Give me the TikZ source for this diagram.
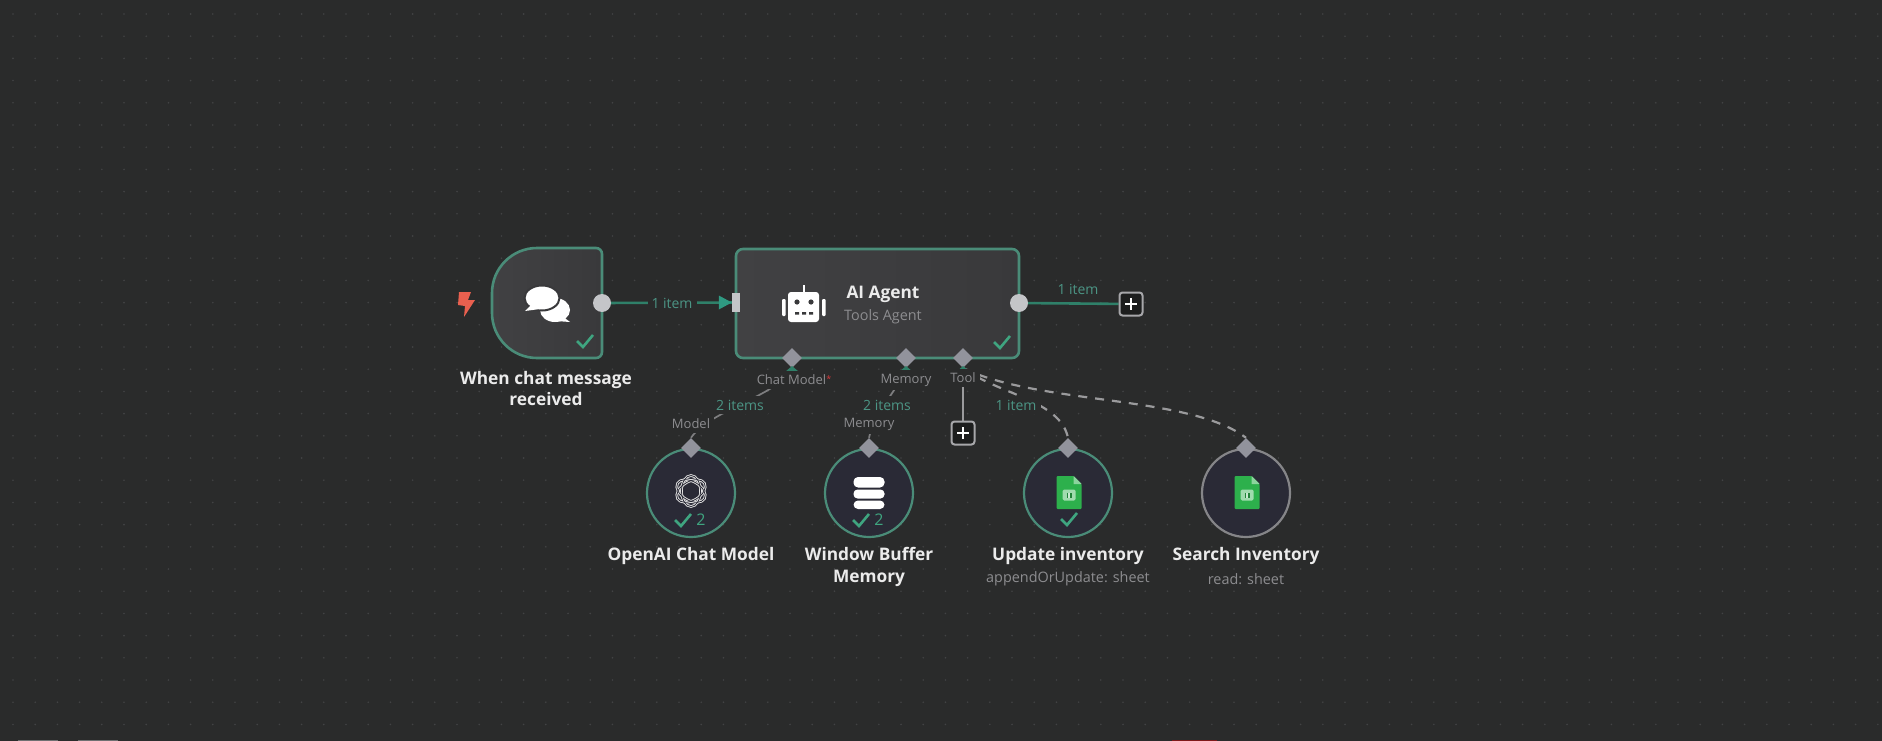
\documentclass[tikz,border=0pt]{standalone}
\usepackage{fontspec}
\setmainfont{Open Sans}
\usetikzlibrary{shapes.geometric,arrows.meta}
\pgfdeclarelayer{canvas}
\pgfdeclarelayer{edges}
\pgfsetlayers{canvas,edges,main}
\definecolor{bgc}{HTML}{2A2B2B}
\definecolor{dotc}{HTML}{424344}
\definecolor{nodec}{HTML}{39393B}
\definecolor{nodetop}{HTML}{414143}
\definecolor{circc}{HTML}{2A2A36}
\definecolor{edgeg}{HTML}{4A8C78}
\definecolor{lineg}{HTML}{2F8069}
\definecolor{arrowg}{HTML}{2F9A82}
\definecolor{checkg}{HTML}{3FA580}
\definecolor{portc}{HTML}{C4C5C8}
\definecolor{diac}{HTML}{92939C}
\definecolor{lblc}{HTML}{8D8D90}
\definecolor{txtc}{HTML}{EBEBEB}
\definecolor{itemc}{HTML}{4C9585}
\definecolor{sheetg}{HTML}{2DB04C}
\definecolor{dashc}{HTML}{9A9A9C}
\definecolor{greyring}{HTML}{858588}
\definecolor{boltc}{HTML}{E9604F}
\tikzset{
  x=1pt,y=-1pt,
  nodebox/.style={draw=edgeg,line width=2.6pt,left color=nodetop,right color=nodec,rounded corners=7pt,inner sep=0pt,minimum width=283pt,minimum height=109pt},
  subnode/.style={circle,draw=edgeg,line width=2.2pt,fill=circc,minimum size=88pt,inner sep=0pt},
  subgrey/.style={subnode,draw=greyring},
  port/.style={circle,fill=portc,minimum size=18pt,inner sep=0pt},
  inport/.style={rectangle,fill=portc,minimum width=8pt,minimum height=19pt,inner sep=0pt},
  dia/.style={diamond,fill=diac,minimum size=20pt,inner sep=0pt},
  plusbox/.style={draw=portc!85!black,line width=2pt,fill=bgc!70!black,rounded corners=3pt,minimum size=23pt,inner sep=0pt},
  title/.style={font=\fontsize{17.3}{21.5}\selectfont\bfseries,text=txtc,align=center,inner sep=0pt},
  agenttitle/.style={font=\fontsize{17.3}{21}\selectfont\bfseries,text=txtc,inner sep=0pt},
  sublabel/.style={font=\fontsize{14.4}{18}\selectfont,text=lblc,inner sep=0pt},
  portlabel/.style={font=\fontsize{13}{16}\selectfont,text=lblc,fill=bgc,inner sep=4pt},
  itemlabel/.style={font=\fontsize{14}{16}\selectfont,text=itemc,fill=bgc,inner sep=4pt},
  countlabel/.style={font=\fontsize{16}{18}\selectfont,text=checkg,inner sep=0pt},
  flow/.style={draw=lineg,line width=2.6pt},
  supply/.style={draw=dashc!75!bgc,line width=1.7pt},
  toolline/.style={draw=dashc,line width=2pt},
  tooldash/.style={draw=dashc,line width=2.2pt,dash pattern=on 9pt off 8pt},
  okcheck/.pic={\draw[checkg,line width=2.6pt] (-8,0)--(-2,6)--(8,-6);},
  sheeticon/.pic={
    \fill[sheetg,rounded corners=1pt] (-12.5,-16.5)--(4.5,-16.5)--(12.5,-8.5)--(12.5,16.5)--(-12.5,16.5)--cycle;
    \fill[sheetg!55!white] (4.5,-16.5)--(12.5,-8.5)--(4.5,-8.5)--cycle;
    \fill[sheetg!45!white,rounded corners=1.5pt] (-6.5,-3)rectangle(6.5,8);
    \fill[sheetg!75!black] (-2.5,0)rectangle(2.5,5);
    \fill[sheetg!25!white] (-0.7,0)rectangle(0.7,5);
  },
  plussign/.pic={\draw[white,line width=2.4pt] (-6,0)--(6,0) (0,-6)--(0,6);}
}
\begin{document}
\begin{tikzpicture}
\useasboundingbox (0,0) rectangle (1882,741);
\begin{pgfonlayer}{canvas}
\fill[bgc] (0,0) rectangle (1882,741);
\fill[dotc] foreach \i in {0,...,84} { foreach \j in {0,...,32} { ({13+22.2*\i},{14+22.2*\j}) circle (0.9) } };
\fill[portc!45!bgc] (18,739.8) rectangle (58,741);
\fill[portc!45!bgc] (78,739.8) rectangle (118,741);
\fill[red!40!bgc] (1172,739.8) rectangle (1217,741);
\end{pgfonlayer}

% chat trigger shape
\node[minimum width=110pt,minimum height=110pt,inner sep=0pt] (chat) at (547,303) {};
\draw[edgeg,line width=2.6pt,left color=nodetop,right color=nodec]
  (602,254) arc[start angle=0,end angle=-90,radius=6] -- (537,248)
  arc[start angle=-90,end angle=-180,radius=45] -- (492,313)
  arc[start angle=180,end angle=90,radius=45] -- (596,358)
  arc[start angle=90,end angle=0,radius=6] -- cycle;

% nodes
\node[nodebox] (agent) at (877.5,303.5) {};
\node[subnode] (model) at (691,493) {};
\node[subnode] (memory) at (869,493) {};
\node[subnode] (update) at (1068,493) {};
\node[subgrey] (search) at (1246,493) {};

% ports
\node[port] (pchat) at (602,303) {};
\node[inport] (pagent) at (736,302.5) {};
\node[port] (pout) at (1019,303) {};
\node[plusbox] (plusa) at (1131,304) {};
\node[plusbox] (plusb) at (963,433) {};
\node[dia] (dchat) at (792,358) {};
\node[dia] (dmem) at (906,358) {};
\node[dia] (dtool) at (963,358) {};
\node[dia] (dmodel) at (691,448) {};
\node[dia] (dmemory) at (869,448) {};
\node[dia] (dupdate) at (1068,448) {};
\node[dia] (dsearch) at (1246,448) {};
\pic at (plusa) {plussign};
\pic at (plusb) {plussign};

% connectors
\begin{pgfonlayer}{edges}
\draw[flow] (pchat) -- (pagent.west);
\draw[flow] (pout) -- (plusa);
\draw[supply] (dchat.south) .. controls (780,395) and (710,410) .. (dmodel.north);
\draw[supply] (dmem.south) .. controls (895,395) and (875,410) .. (dmemory.north);
\draw[toolline] (dtool) -- (plusb);
\draw[tooldash] (dtool.south) .. controls (1000,395) and (1060,400) .. (dupdate.north);
\draw[tooldash] (dtool.south) .. controls (1040,405) and (1190,395) .. (dsearch.north);
\end{pgfonlayer}
\fill[arrowg] (pagent.west) -- ++(-13,-7) -- ++(0,14) -- cycle;
\fill[lineg] (785,372) -- (799,372) -- (792,366) -- cycle;
\fill[lineg] (899,372) -- (913,372) -- (906,366) -- cycle;
\fill[lineg] (956,372) -- (970,372) -- (963,366) -- cycle;

% labels on edges
\node[itemlabel] (l1) at (672,303) {1 item};
\node[itemlabel,fill=none] (l2) at (1078,289) {1 item};
\node[portlabel] (l3) at (794,380) {Chat Model\textcolor{red!60!lblc}{\raisebox{2pt}{\fontsize{9}{9}\selectfont*}}};
\node[portlabel] (l4) at (906,380) {Memory};
\node[portlabel] (l5) at (963,378) {Tool};
\node[itemlabel] (l6) at (740,405) {2 items};
\node[itemlabel] (l7) at (887,405) {2 items};
\node[itemlabel] (l8) at (1016,405) {1 item};
\node[portlabel] (l9) at (691,424) {Model};
\node[portlabel] (l10) at (869,424) {Memory};

% titles
\node[title] (t1) at (546,388.5) {When chat message\\received};
\node[agenttitle] (t2) at (883,294.5) {AI Agent};
\node[sublabel] (t3) at (883,317) {Tools Agent};
\node[title] (t4) at (691,556.5) {OpenAI Chat Model};
\node[title] (t5) at (869,567) {Window Buffer\\Memory};
\node[title] (t6) at (1068,556.5) {Update inventory};
\node[sublabel] (t7) at (1068,579) {appendOrUpdate: sheet};
\node[title] (t8) at (1246,556.5) {Search Inventory};
\node[sublabel] (t9) at (1246,579) {read: sheet};

% bolt
\fill[boltc] (459,292)--(471,292)--(468,300)--(475,300)--(464,317)--(465,306)--(458,305)--cycle;

% chat bubbles
\fill[white] (555,310) ellipse[x radius=15,y radius=12];
\fill[white] (562,316)--(570,322)--(556,321)--cycle;
\fill[white,draw=nodec,line width=2pt] (542,298) ellipse[x radius=17.5,y radius=12.5];
\fill[white] (531,305)--(525,311)--(540,309)--cycle;

% robot
\fill[white,rounded corners=3pt] (788,292) rectangle (819,322);
\fill[white] (802.7,285) rectangle (805.3,293);
\fill[white,rounded corners=1pt] (782,299) rectangle (785.5,316);
\fill[white,rounded corners=1pt] (822,299) rectangle (825.5,316);
\fill[nodec] (797,302) circle (2.6) (811,302) circle (2.6);
\fill[nodec] (795,312) rectangle (799,314.5) (802,312) rectangle (806,314.5) (809,312) rectangle (813,314.5);

% OpenAI mark
\foreach \a in {30,90,150}
  \draw[white!90!black,line width=2.6pt,rotate around={\a:(691,491)}] (691,491) ellipse[x radius=15.5,y radius=9.5];
\foreach \a in {30,90,150}
  \draw[circc,line width=0.8pt,rotate around={\a:(691,491)}] (691,491) ellipse[x radius=15.5,y radius=9.5];

% database
\fill[white,rounded corners=4.5pt] (853.5,477) rectangle (884.5,487.5);
\fill[white,rounded corners=4pt] (853.5,489.5) rectangle (884.5,498.5);
\fill[white,rounded corners=4.5pt] (853.5,500.5) rectangle (884.5,509);

% sheets
\pic at (1069,492.5) {sheeticon};
\pic at (1247,492.5) {sheeticon};

% status marks
\pic at (585,341) {okcheck};
\pic at (1002,342) {okcheck};
\pic at (683,520) {okcheck};
\pic at (861,520) {okcheck};
\pic at (1069,519) {okcheck};
\node[countlabel] (c1) at (701,520) {2};
\node[countlabel] (c2) at (879,520) {2};
\end{tikzpicture}
\end{document}
